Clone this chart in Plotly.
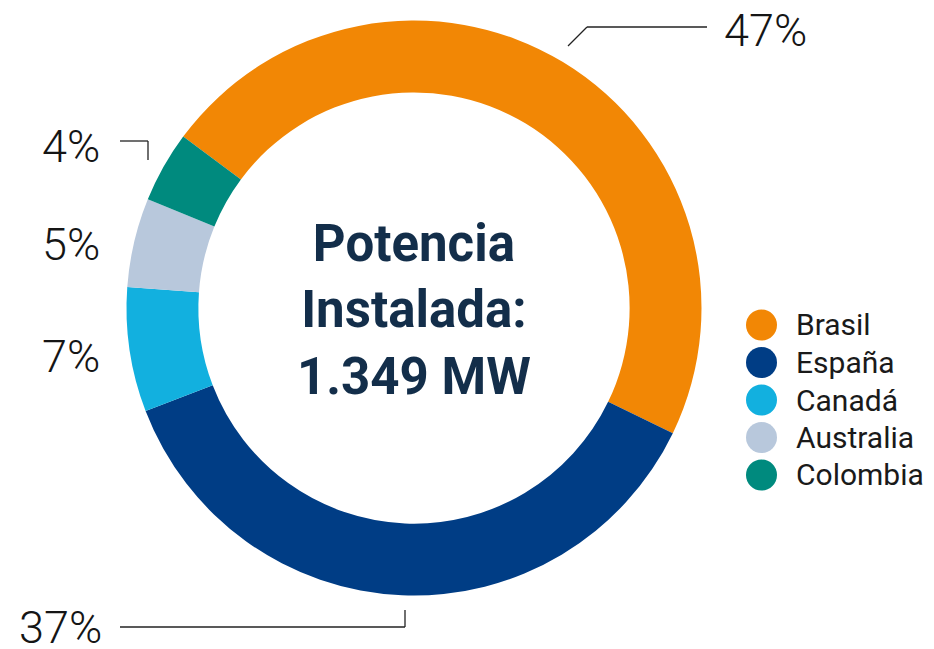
import plotly.graph_objects as go

countries = ["Brasil", "España", "Canadá", "Australia", "Colombia"]
shares = [47, 37, 7, 5, 4]
colors = ["#f28705", "#003d85", "#12b0df", "#b8c8dc", "#008a7e"]
center_title = ["Potencia", "Instalada:", "1.349 MW"]

W, H = 934, 649
OFF = 8  # page body margin
def px(x): return (x - OFF) / W
def py(y): return 1 - (y - OFF) / H

fig = go.Figure()
R = 287.5
cx, cy = 414, 308
fig.add_trace(go.Pie(
    labels=countries, values=shares, sort=False, direction="clockwise",
    rotation=-53.4, hole=0.75, textinfo="none", hoverinfo="label+percent",
    marker=dict(colors=colors, line=dict(width=0)),
    domain=dict(x=[px(cx - R), px(cx + R)], y=[py(cy + R), py(cy - R)]),
    showlegend=False,
))

annotations = []
shapes = []
annotations.append(dict(
    x=px(414), y=py(310), xref="paper", yref="paper", showarrow=False,
    text="<br>".join(center_title),
    font=dict(family="Roboto", size=51, color="#132e4a", weight=700),
    align="center", xanchor="center", yanchor="middle",
))

label_xy = {
    0: (765, 31),
    1: (60, 627),
    2: (71, 356),
    3: (71, 244),
    4: (71, 146),
}
for i, s in enumerate(shares):
    x, y = label_xy[i]
    annotations.append(dict(
        x=px(x), y=py(y), xref="paper", yref="paper", showarrow=False,
        text=f"{s}%", font=dict(family="Roboto", size=45, color="#151515", weight=300),
        xanchor="center", yanchor="middle",
    ))

def seg(x0, y0, x1, y1):
    shapes.append(dict(type="line", xref="paper", yref="paper",
                       x0=px(x0), y0=py(y0), x1=px(x1), y1=py(y1),
                       line=dict(color="#222222", width=1.3)))
seg(568, 46, 587, 27); seg(587, 27, 707, 27)
seg(120, 141, 148, 141); seg(148, 141, 148, 160)
seg(120, 627, 405, 627); seg(405, 627, 405, 610)

ly0, dy = 325, 37.5
for i, (c, col) in enumerate(zip(countries, colors)):
    y = ly0 + i * dy
    shapes.append(dict(type="circle", xref="paper", yref="paper",
                       x0=px(746), x1=px(777), y0=py(y - 15.5), y1=py(y + 15.5),
                       fillcolor=col, line=dict(width=0)))
    annotations.append(dict(
        x=px(794), y=py(y), xref="paper", yref="paper", showarrow=False,
        text=c, font=dict(family="Roboto", size=30, color="#1a1a1a"),
        xanchor="left", yanchor="middle",
    ))

fig.update_layout(
    width=W, height=H, margin=dict(l=0, r=0, t=0, b=0),
    paper_bgcolor="white", plot_bgcolor="white",
    annotations=annotations, shapes=shapes,
)
fig.write_html("out.html")
